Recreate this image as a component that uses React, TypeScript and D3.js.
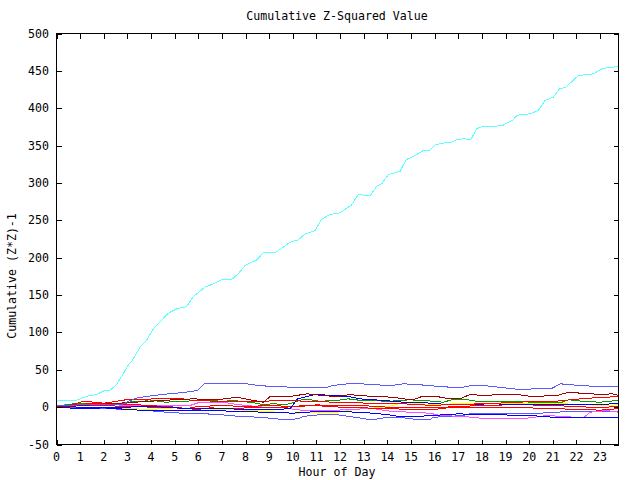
import React from "react";
import * as d3 from "d3";

type Pt = [number, number];

const title = "Cumulative Z-Squared Value";
const xLabel = "Hour of Day";
const yLabel = "Cumulative (Z*Z)-1";
const xTicks = d3.range(0, 24);
const yTicks = [-50, 0, 50, 100, 150, 200, 250, 300, 350, 400, 450, 500];
const xMax = 23.78;

const cyanSeries: Pt[] = [[0,8],[0.32,9],[0.83,9],[1.29,14.6],[1.71,17],[2.01,22],[2.29,23],[2.56,31],[2.86,46.7],[3.03,56],[3.2,62],[3.53,80],[3.82,90],[4.1,104.8],[4.73,125.7],[5.09,131.6],[5.51,134.6],[5.79,148],[6.28,160.5],[6.64,165],[6.99,170.8],[7.41,170.8],[7.69,178.4],[7.98,189.5],[8.47,197],[8.75,206.5],[9.25,206.5],[9.6,214],[9.88,220.7],[10.23,223.9],[10.52,231.9],[10.94,236.3],[11.22,251.5],[11.57,257.8],[12.0,260],[12.49,270.7],[12.77,284.5],[13.27,283],[13.55,295.6],[13.76,298.8],[14.04,311.3],[14.54,315.7],[14.79,331],[15.24,338],[15.52,343.4],[15.78,343.4],[16.02,351],[16.44,353.7],[16.72,354.6],[16.96,358.5],[17.29,359],[17.53,358],[17.78,372.4],[17.99,375.5],[18.84,376.4],[19.33,384.4],[19.48,390.6],[20.04,392.5],[20.39,397],[20.67,410.3],[21.02,414.7],[21.31,426.8],[21.52,427.3],[22.08,443.7],[22.72,446],[23.07,452.7],[23.28,454],[23.78,455.8]];

const slateTop: Pt[] = [[0,2],[1,3],[2,3],[2.8,4],[2.95,6.6],[3.42,12.5],[4.13,15.6],[4.76,17.8],[5.48,20],[5.97,22.3],[6.26,31.2],[7.1,31.2],[7.6,31],[8.09,31],[8.51,29],[9.15,27.6],[9.94,26.7],[10.78,25.8],[11.35,25.8],[11.7,29],[12.34,31.2],[12.9,31.2],[13.47,29.9],[14.17,29],[14.68,31.2],[15.38,29.9],[16.23,27.6],[17.08,25.8],[17.57,29],[18.2,28.5],[18.98,25.8],[19.56,23.6],[20.26,24.5],[20.97,25.3],[21.32,31.2],[22.1,29],[22.94,27.6],[23.78,28]];

const slateLow: Pt[] = [[0,0],[1,-1],[2,-2],[3,-3],[4,-5],[4.63,-6.8],[5.34,-8.1],[6.33,-9],[7.03,-10.3],[7.74,-12.5],[8.58,-13.5],[9.29,-15.6],[9.6,-17],[10.22,-15.6],[10.43,-12.5],[11.07,-10.3],[11.9,-10.3],[12.9,-14.8],[13.32,-17],[14.03,-13.5],[14.67,-14.3],[15.38,-17],[15.8,-17],[15.94,-13.5],[16.6,-12.5],[17.2,-11],[17.6,-8],[18.5,-8],[19.5,-9],[20.5,-8],[21,-7],[22,-5.5],[23.78,-5.5]];

const darkRedSeries: Pt[] = [[0,0],[1,2],[2,4],[3,6],[4,8],[4.94,9.8],[5.79,11.1],[6.78,9.8],[7.63,13.3],[8.19,9.8],[8.75,6.6],[9.04,14.2],[9.88,14.2],[10.59,17.8],[11.01,16.9],[11.14,15.6],[11.9,14.2],[12.4,16.9],[12.76,15.6],[13.47,14.2],[14.24,13.3],[14.68,11.1],[15.1,9.8],[15.45,14.2],[16.09,14.2],[16.65,11.1],[17.1,11.5],[17.5,16.9],[18.06,15.6],[18.85,16.9],[19.5,16.9],[20.12,14.2],[21.18,15.6],[21.67,20],[22.17,18.7],[23.08,16.9],[23.5,17.8],[23.78,15.6]];

const greenSeries: Pt[] = [[0,0],[0.3,2.6],[0.74,4.5],[1.45,5.3],[2.15,4.5],[2.43,3.1],[2.8,4],[3.21,7.9],[3.7,7.9],[3.91,9.8],[4.3,8],[4.63,6.6],[5.34,7.9],[6.19,8.9],[7.1,7.9],[7.46,8.9],[8.3,6],[8.73,3.5],[9.15,4.5],[9.7,3.5],[10.08,6.6],[10.36,9.8],[10.78,9.8],[11.14,7.9],[11.84,8.9],[12.34,11.1],[12.9,8.9],[14.11,7.9],[14.54,8.9],[14.96,9.8],[15.95,7.9],[16.37,6.6],[16.72,9.8],[17.4,9.8],[17.78,7.9],[18.85,7.9],[20.26,6.6],[21.39,6.6],[21.67,9.8],[22.24,7.9],[23,6.6],[23.78,9]];

const redUpper: Pt[] = [[0,0],[0.5,2],[1.16,7.9],[2.01,5.3],[2.93,9.8],[4.24,11.1],[5.37,11.1],[5.79,8.9],[6.78,7.9],[8.75,7.9],[9.6,8.9],[10.5,8],[11.2,7.5],[12,6],[13,5.5],[14.2,5],[15,4],[16,2],[16.5,3.5],[17.5,4],[18.5,5],[19.4,6.6],[21.1,7.9],[22.2,11.1],[22.8,12.5],[23.78,14.2]];

const redMiddle: Pt[] = [[0,1],[1,4],[2,5],[3,4],[4,2],[5,0],[5.5,-2],[6,1],[7,2],[8,1],[9,2],[10,1],[11,3],[12,2],[13,2],[14,0],[15,0],[16,-1],[17,1],[18,2],[19,3],[20,3],[21,2],[22,1],[23,-1],[23.78,1.5]];

const redLower: Pt[] = [[0,2],[1,3],[2,2],[3,1],[4,0],[5,-1],[6,-3],[6.5,-1],[7.5,-2],[8.5,0],[9.5,-1],[10,1],[11,2],[12,0],[13,-1],[14,-2],[15,-3],[16,-3],[16.5,-1],[17,0],[18,0],[19,-1],[20,-1],[21,-2],[22,-3],[23,-4],[23.78,-2]];

const blueUpper: Pt[] = [[0,1],[1,0],[2,-1],[3,0],[4,1],[5,-1],[6,-2],[7,-2],[8,-3],[9,-3],[9.88,-2.3],[10.2,11.1],[10.93,16.9],[11.77,15.6],[12.34,14.2],[12.83,11.1],[13.47,9.8],[14.24,7.9],[14.68,6.6],[15.95,5.3],[16.44,3.5],[17.5,3.5],[18.35,4.5],[19.5,3.5],[21.1,3.5],[22.5,3.5],[23.78,4.5]];

const blueLower: Pt[] = [[0,0],[1,-2],[2,-1],[3,-3],[4,-5],[5,-4],[6,-5],[7,-5],[8,-6],[9,-7],[10,-8],[11,-6],[12,-6],[13,-7],[14,-10],[14.5,-12.5],[15.2,-12.5],[16,-11],[17,-9],[18,-10],[19,-10.5],[20,-11],[21,-13.5],[22,-13.5],[23,-14],[23.78,-13.5]];

const magentaSeries: Pt[] = [[0,1],[0.5,4],[1.5,3],[2.5,3],[3.5,2],[3.96,2.2],[5.65,2.2],[6.07,6.6],[7.06,6.6],[7.63,3.5],[8.75,0],[9.6,-0.9],[10.44,-4.5],[11.57,-4.5],[12.98,-2.3],[13.5,-2.5],[14.11,-5.4],[14.96,-6.8],[15.8,-8.1],[16.23,-11.2],[17.22,-12.5],[18.2,-15.6],[19.48,-15.6],[20.04,-14.3],[20.74,-11.2],[21.45,-12.5],[22.3,-14.3],[22.58,-6.8],[23.28,-4.5],[23.78,-6.8]];

const yellowSeries: Pt[] = [[0,-1],[1,-1],[2,-2],[3,-2],[4,-3],[5,-1],[6,-2],[7,-3],[8,-4],[9,-6],[9.94,-8.1],[11.9,-6.8],[12.76,-2.3],[13.6,-0.9],[14.24,2.2],[14.5,4.5],[15.5,4.5],[15.95,3.1],[17.36,5.3],[18.5,4.5],[20,4.5],[21.39,4.5],[22.2,3.5],[23.08,2.2],[23.78,3.1]];

const seriesList: { data: Pt[]; color: string }[] = [
  { data: yellowSeries, color: "#ffff00" },
  { data: slateLow, color: "#5a5aff" },
  { data: magentaSeries, color: "#ff50ff" },
  { data: blueLower, color: "#0000ff" },
  { data: redLower, color: "#ff0000" },
  { data: greenSeries, color: "#00a000" },
  { data: redMiddle, color: "#ff0000" },
  { data: blueUpper, color: "#0000ff" },
  { data: redUpper, color: "#ff0000" },
  { data: darkRedSeries, color: "#a00000" },
  { data: slateTop, color: "#5a5aff" },
  { data: cyanSeries, color: "#5fffff" },
];

const FONT = "'DejaVu Sans Mono', 'Liberation Mono', monospace";

export default function App() {
  const left = 56.5, right = 618.5, top = 33.5, bottom = 444.5;
  const x = d3.scaleLinear().domain([0, xMax]).range([left, right]);
  const y = d3.scaleLinear().domain([-50, 500]).range([bottom, top]);
  const line = d3.line<Pt>().x((d) => x(d[0])).y((d) => y(d[1]));
  const tick = 5;
  return (
    <svg width={640} height={480} style={{ position: "absolute", left: 0, top: 0, background: "#fff" }}
      fontFamily={FONT} fontSize={11.6}>
      <rect x={0} y={0} width={640} height={480} fill="#fff" />
      <g shapeRendering="crispEdges">
        {seriesList.map((s, i) => (
          <path key={i} d={line(s.data) || ""} fill="none" stroke={s.color} strokeWidth={1} />
        ))}
      </g>
      <g stroke="#000" strokeWidth={1} shapeRendering="crispEdges">
        <rect x={left} y={top} width={right - left} height={bottom - top} fill="none" />
        {xTicks.map((t) => (
          <g key={"x" + t}>
            <line x1={Math.round(x(t)) + 0.5} x2={Math.round(x(t)) + 0.5} y1={bottom} y2={bottom - tick} />
            <line x1={Math.round(x(t)) + 0.5} x2={Math.round(x(t)) + 0.5} y1={top} y2={top + tick} />
          </g>
        ))}
        {yTicks.map((t) => (
          <g key={"y" + t}>
            <line x1={left} x2={left + tick} y1={Math.round(y(t)) + 0.5} y2={Math.round(y(t)) + 0.5} />
            <line x1={right} x2={right - tick} y1={Math.round(y(t)) + 0.5} y2={Math.round(y(t)) + 0.5} />
          </g>
        ))}
      </g>
      <g fill="#000">
        {yTicks.map((t) => (
          <text key={"yl" + t} x={49} y={y(t) + 4} textAnchor="end">{t}</text>
        ))}
        {xTicks.map((t) => (
          <text key={"xl" + t} x={x(t)} y={461} textAnchor="middle">{t}</text>
        ))}
        <text x={337} y={20} textAnchor="middle">{title}</text>
        <text x={337} y={476} textAnchor="middle">{xLabel}</text>
        <text transform="translate(16,276) rotate(-90)" textAnchor="middle">{yLabel}</text>
      </g>
    </svg>
  );
}
